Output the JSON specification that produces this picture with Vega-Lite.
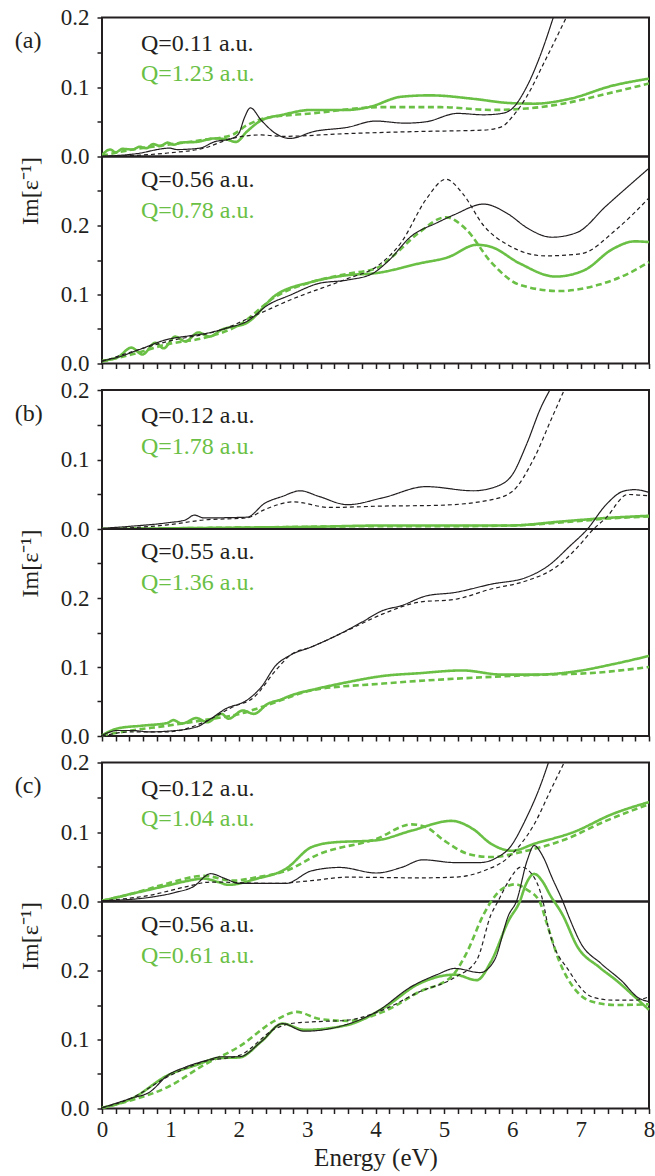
{
"$schema": "https://vega.github.io/schema/vega-lite/v6.json",
"padding": {"left": 13, "top": 5.5, "right": 2, "bottom": 2},
"config": {
  "view": {"stroke": "#231f20", "strokeWidth": 2},
  "font": "Liberation Serif, Times New Roman, serif",
  "axis": {"domain": false, "grid": false, "ticks": true, "tickSize": 5, "tickWidth": 1.5, "tickCount": 60, "tickColor": "#231f20", "labelFont": "Liberation Serif, Times New Roman, serif", "labelFontSize": 23, "labelColor": "#231f20", "labelFlush": false, "labelOverlap": false, "labelBound": false, "titleFont": "Liberation Serif, Times New Roman, serif", "titleFontWeight": "normal", "titleColor": "#231f20"},
  "text": {"font": "Liberation Serif, Times New Roman, serif", "fontSize": 24}
},
"datasets": {
"a1": [
{"E":0,"v":0.002,"s":"gs"},{"E":0.12,"v":0.01,"s":"gs"},{"E":0.2,"v":0.006,"s":"gs"},{"E":0.3,"v":0.011,"s":"gs"},{"E":0.45,"v":0.01,"s":"gs"},{"E":0.55,"v":0.014,"s":"gs"},{"E":0.65,"v":0.012,"s":"gs"},{"E":0.75,"v":0.018,"s":"gs"},{"E":0.85,"v":0.015,"s":"gs"},{"E":0.96,"v":0.02,"s":"gs"},{"E":1.05,"v":0.017,"s":"gs"},{"E":1.15,"v":0.02,"s":"gs"},{"E":1.38,"v":0.021,"s":"gs"},{"E":1.64,"v":0.026,"s":"gs"},{"E":1.8,"v":0.025,"s":"gs"},{"E":1.96,"v":0.021,"s":"gs"},{"E":2.12,"v":0.036,"s":"gs"},{"E":2.33,"v":0.052,"s":"gs"},{"E":2.64,"v":0.06,"s":"gs"},{"E":3.06,"v":0.067,"s":"gs"},{"E":3.59,"v":0.067,"s":"gs"},{"E":3.9,"v":0.071,"s":"gs"},{"E":4.38,"v":0.086,"s":"gs"},{"E":4.8,"v":0.088,"s":"gs"},{"E":5.43,"v":0.083,"s":"gs"},{"E":5.95,"v":0.077,"s":"gs"},{"E":6.32,"v":0.076,"s":"gs"},{"E":6.84,"v":0.083,"s":"gs"},{"E":7.47,"v":0.102,"s":"gs"},{"E":8,"v":0.112,"s":"gs"},
{"E":0,"v":0.001,"s":"gd"},{"E":0.45,"v":0.01,"s":"gd"},{"E":0.96,"v":0.017,"s":"gd"},{"E":1.49,"v":0.024,"s":"gd"},{"E":1.9,"v":0.031,"s":"gd"},{"E":2.12,"v":0.045,"s":"gd"},{"E":2.38,"v":0.055,"s":"gd"},{"E":3.06,"v":0.062,"s":"gd"},{"E":4.11,"v":0.071,"s":"gd"},{"E":4.95,"v":0.071,"s":"gd"},{"E":5.69,"v":0.067,"s":"gd"},{"E":6.21,"v":0.069,"s":"gd"},{"E":6.74,"v":0.076,"s":"gd"},{"E":7.37,"v":0.09,"s":"gd"},{"E":8,"v":0.105,"s":"gd"},
{"E":0,"v":0,"s":"ks"},{"E":0.5,"v":0.004,"s":"ks"},{"E":0.99,"v":0.012,"s":"ks"},{"E":1.1,"v":0.01,"s":"ks"},{"E":1.43,"v":0.012,"s":"ks"},{"E":1.64,"v":0.021,"s":"ks"},{"E":1.9,"v":0.026,"s":"ks"},{"E":2.0,"v":0.033,"s":"ks"},{"E":2.08,"v":0.055,"s":"ks"},{"E":2.17,"v":0.07,"s":"ks"},{"E":2.33,"v":0.052,"s":"ks"},{"E":2.54,"v":0.033,"s":"ks"},{"E":2.75,"v":0.026,"s":"ks"},{"E":3.1,"v":0.036,"s":"ks"},{"E":3.59,"v":0.042,"s":"ks"},{"E":4.0,"v":0.051,"s":"ks"},{"E":4.43,"v":0.048,"s":"ks"},{"E":4.74,"v":0.05,"s":"ks"},{"E":5.2,"v":0.062,"s":"ks"},{"E":5.58,"v":0.06,"s":"ks"},{"E":5.85,"v":0.062,"s":"ks"},{"E":6.0,"v":0.069,"s":"ks"},{"E":6.21,"v":0.1,"s":"ks"},{"E":6.42,"v":0.148,"s":"ks"},{"E":6.6,"v":0.2,"s":"ks"},
{"E":0,"v":0,"s":"kd"},{"E":0.96,"v":0.005,"s":"kd"},{"E":1.49,"v":0.012,"s":"kd"},{"E":1.9,"v":0.026,"s":"kd"},{"E":2.33,"v":0.031,"s":"kd"},{"E":2.64,"v":0.029,"s":"kd"},{"E":3.59,"v":0.033,"s":"kd"},{"E":4.64,"v":0.036,"s":"kd"},{"E":5.58,"v":0.038,"s":"kd"},{"E":5.85,"v":0.043,"s":"kd"},{"E":6.0,"v":0.057,"s":"kd"},{"E":6.21,"v":0.086,"s":"kd"},{"E":6.48,"v":0.138,"s":"kd"},{"E":6.79,"v":0.2,"s":"kd"}
],
"a2": [
{"E":0,"v":0.004,"s":"gs"},{"E":0.23,"v":0.009,"s":"gs"},{"E":0.43,"v":0.023,"s":"gs"},{"E":0.59,"v":0.013,"s":"gs"},{"E":0.78,"v":0.03,"s":"gs"},{"E":0.9,"v":0.022,"s":"gs"},{"E":1.07,"v":0.039,"s":"gs"},{"E":1.22,"v":0.032,"s":"gs"},{"E":1.41,"v":0.045,"s":"gs"},{"E":1.57,"v":0.039,"s":"gs"},{"E":1.75,"v":0.049,"s":"gs"},{"E":2.12,"v":0.059,"s":"gs"},{"E":2.54,"v":0.099,"s":"gs"},{"E":3.06,"v":0.118,"s":"gs"},{"E":3.59,"v":0.128,"s":"gs"},{"E":4.01,"v":0.131,"s":"gs"},{"E":4.64,"v":0.145,"s":"gs"},{"E":5.06,"v":0.154,"s":"gs"},{"E":5.48,"v":0.172,"s":"gs"},{"E":5.69,"v":0.169,"s":"gs"},{"E":6.11,"v":0.145,"s":"gs"},{"E":6.63,"v":0.126,"s":"gs"},{"E":7.05,"v":0.135,"s":"gs"},{"E":7.47,"v":0.166,"s":"gs"},{"E":7.79,"v":0.177,"s":"gs"},{"E":8,"v":0.176,"s":"gs"},
{"E":0,"v":0.003,"s":"gd"},{"E":0.43,"v":0.013,"s":"gd"},{"E":0.96,"v":0.028,"s":"gd"},{"E":1.49,"v":0.037,"s":"gd"},{"E":2.01,"v":0.056,"s":"gd"},{"E":2.54,"v":0.097,"s":"gd"},{"E":3.06,"v":0.118,"s":"gd"},{"E":3.59,"v":0.13,"s":"gd"},{"E":4.01,"v":0.138,"s":"gd"},{"E":4.27,"v":0.157,"s":"gd"},{"E":4.64,"v":0.19,"s":"gd"},{"E":5.03,"v":0.212,"s":"gd"},{"E":5.32,"v":0.195,"s":"gd"},{"E":5.69,"v":0.147,"s":"gd"},{"E":6.11,"v":0.114,"s":"gd"},{"E":6.69,"v":0.105,"s":"gd"},{"E":7.26,"v":0.114,"s":"gd"},{"E":7.69,"v":0.13,"s":"gd"},{"E":8,"v":0.147,"s":"gd"},
{"E":0,"v":0.004,"s":"ks"},{"E":0.23,"v":0.009,"s":"ks"},{"E":0.54,"v":0.02,"s":"ks"},{"E":0.96,"v":0.035,"s":"ks"},{"E":1.27,"v":0.04,"s":"ks"},{"E":1.54,"v":0.044,"s":"ks"},{"E":1.85,"v":0.052,"s":"ks"},{"E":2.12,"v":0.061,"s":"ks"},{"E":2.43,"v":0.085,"s":"ks"},{"E":2.75,"v":0.099,"s":"ks"},{"E":3.17,"v":0.116,"s":"ks"},{"E":3.59,"v":0.121,"s":"ks"},{"E":3.95,"v":0.13,"s":"ks"},{"E":4.17,"v":0.147,"s":"ks"},{"E":4.53,"v":0.185,"s":"ks"},{"E":4.9,"v":0.204,"s":"ks"},{"E":5.16,"v":0.216,"s":"ks"},{"E":5.58,"v":0.231,"s":"ks"},{"E":5.95,"v":0.216,"s":"ks"},{"E":6.21,"v":0.197,"s":"ks"},{"E":6.58,"v":0.183,"s":"ks"},{"E":6.95,"v":0.19,"s":"ks"},{"E":7.37,"v":0.228,"s":"ks"},{"E":8,"v":0.283,"s":"ks"},
{"E":0,"v":0.003,"s":"kd"},{"E":0.96,"v":0.032,"s":"kd"},{"E":1.75,"v":0.049,"s":"kd"},{"E":2.27,"v":0.071,"s":"kd"},{"E":2.75,"v":0.092,"s":"kd"},{"E":3.59,"v":0.123,"s":"kd"},{"E":4.01,"v":0.14,"s":"kd"},{"E":4.38,"v":0.176,"s":"kd"},{"E":4.74,"v":0.238,"s":"kd"},{"E":5.03,"v":0.267,"s":"kd"},{"E":5.27,"v":0.247,"s":"kd"},{"E":5.58,"v":0.2,"s":"kd"},{"E":5.95,"v":0.171,"s":"kd"},{"E":6.48,"v":0.156,"s":"kd"},{"E":7.0,"v":0.159,"s":"kd"},{"E":7.53,"v":0.195,"s":"kd"},{"E":8,"v":0.24,"s":"kd"}
],
"b1": [
{"E":0,"v":0,"s":"gs"},{"E":1,"v":0.001,"s":"gs"},{"E":2.01,"v":0.002,"s":"gs"},{"E":3,"v":0.003,"s":"gs"},{"E":4.11,"v":0.005,"s":"gs"},{"E":5,"v":0.005,"s":"gs"},{"E":5.95,"v":0.005,"s":"gs"},{"E":6.74,"v":0.011,"s":"gs"},{"E":7.4,"v":0.016,"s":"gs"},{"E":8,"v":0.019,"s":"gs"},
{"E":0,"v":0,"s":"gd"},{"E":2,"v":0.002,"s":"gd"},{"E":4,"v":0.004,"s":"gd"},{"E":5,"v":0.004,"s":"gd"},{"E":6,"v":0.005,"s":"gd"},{"E":6.8,"v":0.01,"s":"gd"},{"E":7.4,"v":0.015,"s":"gd"},{"E":8,"v":0.018,"s":"gd"},
{"E":0,"v":0.001,"s":"ks"},{"E":0.43,"v":0.004,"s":"ks"},{"E":0.96,"v":0.009,"s":"ks"},{"E":1.22,"v":0.013,"s":"ks"},{"E":1.35,"v":0.02,"s":"ks"},{"E":1.49,"v":0.016,"s":"ks"},{"E":2.12,"v":0.017,"s":"ks"},{"E":2.38,"v":0.037,"s":"ks"},{"E":2.64,"v":0.047,"s":"ks"},{"E":2.9,"v":0.055,"s":"ks"},{"E":3.17,"v":0.047,"s":"ks"},{"E":3.59,"v":0.035,"s":"ks"},{"E":4.11,"v":0.045,"s":"ks"},{"E":4.74,"v":0.061,"s":"ks"},{"E":5.43,"v":0.055,"s":"ks"},{"E":5.79,"v":0.062,"s":"ks"},{"E":6.0,"v":0.078,"s":"ks"},{"E":6.21,"v":0.122,"s":"ks"},{"E":6.42,"v":0.175,"s":"ks"},{"E":6.55,"v":0.2,"s":"ks"},
{"E":0,"v":0,"s":"kd"},{"E":0.96,"v":0.006,"s":"kd"},{"E":1.49,"v":0.013,"s":"kd"},{"E":2.12,"v":0.016,"s":"kd"},{"E":2.38,"v":0.028,"s":"kd"},{"E":2.8,"v":0.039,"s":"kd"},{"E":3.33,"v":0.031,"s":"kd"},{"E":4.11,"v":0.033,"s":"kd"},{"E":4.9,"v":0.034,"s":"kd"},{"E":5.69,"v":0.042,"s":"kd"},{"E":6.0,"v":0.054,"s":"kd"},{"E":6.32,"v":0.102,"s":"kd"},{"E":6.58,"v":0.16,"s":"kd"},{"E":6.76,"v":0.2,"s":"kd"}
],
"b2": [
{"E":0,"v":0.001,"s":"gs"},{"E":0.23,"v":0.011,"s":"gs"},{"E":0.59,"v":0.015,"s":"gs"},{"E":0.96,"v":0.019,"s":"gs"},{"E":1.04,"v":0.023,"s":"gs"},{"E":1.17,"v":0.018,"s":"gs"},{"E":1.38,"v":0.026,"s":"gs"},{"E":1.54,"v":0.02,"s":"gs"},{"E":1.75,"v":0.032,"s":"gs"},{"E":1.85,"v":0.025,"s":"gs"},{"E":2.06,"v":0.037,"s":"gs"},{"E":2.22,"v":0.032,"s":"gs"},{"E":2.43,"v":0.047,"s":"gs"},{"E":2.59,"v":0.052,"s":"gs"},{"E":2.8,"v":0.06,"s":"gs"},{"E":3.12,"v":0.068,"s":"gs"},{"E":3.59,"v":0.078,"s":"gs"},{"E":4.11,"v":0.087,"s":"gs"},{"E":4.64,"v":0.091,"s":"gs"},{"E":5.27,"v":0.095,"s":"gs"},{"E":5.85,"v":0.089,"s":"gs"},{"E":6.37,"v":0.089,"s":"gs"},{"E":6.95,"v":0.094,"s":"gs"},{"E":7.47,"v":0.104,"s":"gs"},{"E":8,"v":0.116,"s":"gs"},
{"E":0,"v":0.001,"s":"gd"},{"E":0.43,"v":0.008,"s":"gd"},{"E":0.96,"v":0.015,"s":"gd"},{"E":1.49,"v":0.023,"s":"gd"},{"E":2.01,"v":0.032,"s":"gd"},{"E":2.54,"v":0.049,"s":"gd"},{"E":3.06,"v":0.066,"s":"gd"},{"E":4.11,"v":0.076,"s":"gd"},{"E":5.16,"v":0.083,"s":"gd"},{"E":6.21,"v":0.088,"s":"gd"},{"E":7.26,"v":0.092,"s":"gd"},{"E":8,"v":0.1,"s":"gd"},
{"E":0,"v":0.001,"s":"ks"},{"E":0.23,"v":0.008,"s":"ks"},{"E":0.43,"v":0.008,"s":"ks"},{"E":0.7,"v":0.006,"s":"ks"},{"E":0.96,"v":0.007,"s":"ks"},{"E":1.38,"v":0.013,"s":"ks"},{"E":1.59,"v":0.025,"s":"ks"},{"E":1.8,"v":0.039,"s":"ks"},{"E":2.12,"v":0.052,"s":"ks"},{"E":2.33,"v":0.071,"s":"ks"},{"E":2.54,"v":0.102,"s":"ks"},{"E":2.75,"v":0.117,"s":"ks"},{"E":3.06,"v":0.129,"s":"ks"},{"E":3.48,"v":0.148,"s":"ks"},{"E":3.8,"v":0.165,"s":"ks"},{"E":4.11,"v":0.182,"s":"ks"},{"E":4.38,"v":0.189,"s":"ks"},{"E":4.74,"v":0.203,"s":"ks"},{"E":5.16,"v":0.208,"s":"ks"},{"E":5.69,"v":0.22,"s":"ks"},{"E":6.21,"v":0.23,"s":"ks"},{"E":6.53,"v":0.247,"s":"ks"},{"E":6.84,"v":0.275,"s":"ks"},{"E":7.1,"v":0.3,"s":"ks"},{"E":7.37,"v":0.335,"s":"ks"},{"E":7.63,"v":0.355,"s":"ks"},{"E":7.79,"v":0.357,"s":"ks"},{"E":8,"v":0.353,"s":"ks"},
{"E":0,"v":0,"s":"kd"},{"E":0.43,"v":0.006,"s":"kd"},{"E":0.96,"v":0.006,"s":"kd"},{"E":1.49,"v":0.02,"s":"kd"},{"E":1.91,"v":0.042,"s":"kd"},{"E":2.22,"v":0.056,"s":"kd"},{"E":2.54,"v":0.095,"s":"kd"},{"E":2.75,"v":0.117,"s":"kd"},{"E":3.06,"v":0.129,"s":"kd"},{"E":3.59,"v":0.153,"s":"kd"},{"E":4.11,"v":0.177,"s":"kd"},{"E":4.64,"v":0.194,"s":"kd"},{"E":5.16,"v":0.198,"s":"kd"},{"E":5.69,"v":0.213,"s":"kd"},{"E":6.21,"v":0.225,"s":"kd"},{"E":6.63,"v":0.244,"s":"kd"},{"E":6.95,"v":0.273,"s":"kd"},{"E":7.19,"v":0.3,"s":"kd"},{"E":7.37,"v":0.316,"s":"kd"},{"E":7.69,"v":0.35,"s":"kd"},{"E":8,"v":0.348,"s":"kd"}
],
"c1": [
{"E":0,"v":0.001,"s":"gs"},{"E":0.43,"v":0.011,"s":"gs"},{"E":0.96,"v":0.023,"s":"gs"},{"E":1.22,"v":0.029,"s":"gs"},{"E":1.49,"v":0.033,"s":"gs"},{"E":1.7,"v":0.028,"s":"gs"},{"E":1.85,"v":0.024,"s":"gs"},{"E":2.27,"v":0.033,"s":"gs"},{"E":2.69,"v":0.047,"s":"gs"},{"E":3.06,"v":0.078,"s":"gs"},{"E":3.38,"v":0.085,"s":"gs"},{"E":4.01,"v":0.088,"s":"gs"},{"E":4.53,"v":0.102,"s":"gs"},{"E":5.11,"v":0.116,"s":"gs"},{"E":5.43,"v":0.104,"s":"gs"},{"E":5.69,"v":0.083,"s":"gs"},{"E":6.0,"v":0.073,"s":"gs"},{"E":6.32,"v":0.083,"s":"gs"},{"E":6.9,"v":0.1,"s":"gs"},{"E":7.47,"v":0.126,"s":"gs"},{"E":8,"v":0.143,"s":"gs"},
{"E":0,"v":0.001,"s":"gd"},{"E":0.43,"v":0.011,"s":"gd"},{"E":0.96,"v":0.026,"s":"gd"},{"E":1.49,"v":0.037,"s":"gd"},{"E":1.91,"v":0.03,"s":"gd"},{"E":2.27,"v":0.035,"s":"gd"},{"E":2.69,"v":0.044,"s":"gd"},{"E":3.17,"v":0.068,"s":"gd"},{"E":4.01,"v":0.09,"s":"gd"},{"E":4.53,"v":0.111,"s":"gd"},{"E":4.74,"v":0.107,"s":"gd"},{"E":5.0,"v":0.088,"s":"gd"},{"E":5.37,"v":0.068,"s":"gd"},{"E":5.69,"v":0.064,"s":"gd"},{"E":6.21,"v":0.073,"s":"gd"},{"E":6.74,"v":0.088,"s":"gd"},{"E":7.37,"v":0.116,"s":"gd"},{"E":8,"v":0.14,"s":"gd"},
{"E":0,"v":0.001,"s":"ks"},{"E":0.7,"v":0.006,"s":"ks"},{"E":1.07,"v":0.013,"s":"ks"},{"E":1.33,"v":0.021,"s":"ks"},{"E":1.59,"v":0.04,"s":"ks"},{"E":1.8,"v":0.033,"s":"ks"},{"E":2.01,"v":0.026,"s":"ks"},{"E":2.69,"v":0.026,"s":"ks"},{"E":3.06,"v":0.044,"s":"ks"},{"E":3.48,"v":0.049,"s":"ks"},{"E":4.01,"v":0.041,"s":"ks"},{"E":4.38,"v":0.049,"s":"ks"},{"E":4.69,"v":0.06,"s":"ks"},{"E":5.16,"v":0.056,"s":"ks"},{"E":5.53,"v":0.056,"s":"ks"},{"E":5.79,"v":0.064,"s":"ks"},{"E":5.95,"v":0.076,"s":"ks"},{"E":6.21,"v":0.121,"s":"ks"},{"E":6.42,"v":0.169,"s":"ks"},{"E":6.53,"v":0.2,"s":"ks"},
{"E":0,"v":0.001,"s":"kd"},{"E":0.7,"v":0.009,"s":"kd"},{"E":1.22,"v":0.021,"s":"kd"},{"E":1.59,"v":0.028,"s":"kd"},{"E":2.54,"v":0.026,"s":"kd"},{"E":3.06,"v":0.03,"s":"kd"},{"E":3.59,"v":0.035,"s":"kd"},{"E":4.64,"v":0.034,"s":"kd"},{"E":5.16,"v":0.035,"s":"kd"},{"E":5.58,"v":0.044,"s":"kd"},{"E":5.95,"v":0.064,"s":"kd"},{"E":6.32,"v":0.111,"s":"kd"},{"E":6.58,"v":0.164,"s":"kd"},{"E":6.76,"v":0.2,"s":"kd"}
],
"c2": [
{"E":0,"v":0.001,"s":"gs"},{"E":0.43,"v":0.014,"s":"gs"},{"E":0.96,"v":0.048,"s":"gs"},{"E":1.38,"v":0.063,"s":"gs"},{"E":1.7,"v":0.073,"s":"gs"},{"E":2.01,"v":0.074,"s":"gs"},{"E":2.33,"v":0.097,"s":"gs"},{"E":2.64,"v":0.123,"s":"gs"},{"E":2.96,"v":0.114,"s":"gs"},{"E":3.59,"v":0.121,"s":"gs"},{"E":4.11,"v":0.145,"s":"gs"},{"E":4.64,"v":0.181,"s":"gs"},{"E":5.16,"v":0.194,"s":"gs"},{"E":5.48,"v":0.186,"s":"gs"},{"E":5.69,"v":0.213,"s":"gs"},{"E":5.95,"v":0.273,"s":"gs"},{"E":6.11,"v":0.3,"s":"gs"},{"E":6.2,"v":0.325,"s":"gs"},{"E":6.32,"v":0.34,"s":"gs"},{"E":6.45,"v":0.328,"s":"gs"},{"E":6.55,"v":0.31,"s":"gs"},{"E":6.74,"v":0.28,"s":"gs"},{"E":6.95,"v":0.235,"s":"gs"},{"E":7.27,"v":0.205,"s":"gs"},{"E":7.53,"v":0.185,"s":"gs"},{"E":7.79,"v":0.162,"s":"gs"},{"E":8,"v":0.143,"s":"gs"},
{"E":0,"v":0.001,"s":"gd"},{"E":0.43,"v":0.012,"s":"gd"},{"E":0.96,"v":0.031,"s":"gd"},{"E":1.49,"v":0.063,"s":"gd"},{"E":2.01,"v":0.09,"s":"gd"},{"E":2.54,"v":0.128,"s":"gd"},{"E":2.85,"v":0.14,"s":"gd"},{"E":3.17,"v":0.13,"s":"gd"},{"E":3.59,"v":0.127,"s":"gd"},{"E":4.11,"v":0.14,"s":"gd"},{"E":4.64,"v":0.169,"s":"gd"},{"E":5.11,"v":0.191,"s":"gd"},{"E":5.32,"v":0.223,"s":"gd"},{"E":5.58,"v":0.281,"s":"gd"},{"E":5.69,"v":0.3,"s":"gd"},{"E":5.85,"v":0.318,"s":"gd"},{"E":6.05,"v":0.325,"s":"gd"},{"E":6.2,"v":0.318,"s":"gd"},{"E":6.4,"v":0.3,"s":"gd"},{"E":6.5,"v":0.27,"s":"gd"},{"E":6.69,"v":0.213,"s":"gd"},{"E":6.95,"v":0.169,"s":"gd"},{"E":7.16,"v":0.155,"s":"gd"},{"E":7.53,"v":0.15,"s":"gd"},{"E":8,"v":0.151,"s":"gd"},
{"E":0,"v":0.001,"s":"ks"},{"E":0.43,"v":0.015,"s":"ks"},{"E":0.7,"v":0.024,"s":"ks"},{"E":0.96,"v":0.048,"s":"ks"},{"E":1.22,"v":0.06,"s":"ks"},{"E":1.54,"v":0.07,"s":"ks"},{"E":1.75,"v":0.075,"s":"ks"},{"E":2.01,"v":0.075,"s":"ks"},{"E":2.33,"v":0.097,"s":"ks"},{"E":2.64,"v":0.123,"s":"ks"},{"E":2.96,"v":0.112,"s":"ks"},{"E":3.48,"v":0.119,"s":"ks"},{"E":4.01,"v":0.14,"s":"ks"},{"E":4.53,"v":0.177,"s":"ks"},{"E":4.9,"v":0.194,"s":"ks"},{"E":5.16,"v":0.203,"s":"ks"},{"E":5.53,"v":0.197,"s":"ks"},{"E":5.74,"v":0.215,"s":"ks"},{"E":5.95,"v":0.281,"s":"ks"},{"E":6.06,"v":0.3,"s":"ks"},{"E":6.22,"v":0.36,"s":"ks"},{"E":6.32,"v":0.381,"s":"ks"},{"E":6.45,"v":0.365,"s":"ks"},{"E":6.58,"v":0.335,"s":"ks"},{"E":6.74,"v":0.3,"s":"ks"},{"E":6.84,"v":0.275,"s":"ks"},{"E":7.0,"v":0.24,"s":"ks"},{"E":7.3,"v":0.21,"s":"ks"},{"E":7.6,"v":0.185,"s":"ks"},{"E":7.85,"v":0.16,"s":"ks"},{"E":8,"v":0.155,"s":"ks"},
{"E":0,"v":0.001,"s":"kd"},{"E":0.43,"v":0.015,"s":"kd"},{"E":0.96,"v":0.046,"s":"kd"},{"E":1.49,"v":0.068,"s":"kd"},{"E":2.01,"v":0.077,"s":"kd"},{"E":2.54,"v":0.116,"s":"kd"},{"E":2.75,"v":0.123,"s":"kd"},{"E":3.17,"v":0.126,"s":"kd"},{"E":3.59,"v":0.128,"s":"kd"},{"E":4.11,"v":0.143,"s":"kd"},{"E":4.64,"v":0.169,"s":"kd"},{"E":5.16,"v":0.19,"s":"kd"},{"E":5.48,"v":0.215,"s":"kd"},{"E":5.69,"v":0.281,"s":"kd"},{"E":5.79,"v":0.3,"s":"kd"},{"E":5.95,"v":0.33,"s":"kd"},{"E":6.13,"v":0.35,"s":"kd"},{"E":6.32,"v":0.335,"s":"kd"},{"E":6.45,"v":0.3,"s":"kd"},{"E":6.53,"v":0.261,"s":"kd"},{"E":6.84,"v":0.198,"s":"kd"},{"E":7.16,"v":0.162,"s":"kd"},{"E":7.47,"v":0.157,"s":"kd"},{"E":7.79,"v":0.157,"s":"kd"},{"E":8,"v":0.162,"s":"kd"}
]
},
"spacing": 1.5,
"resolve": {"scale": {"y": "independent"}},
"vconcat": [
{"bounds": "flush", "spacing": 0, "resolve": {"scale": {"y": "independent"}},
 "vconcat": [
 {"width": 547, "height": 139, "data": {"name": "a1"},
  "layer": [
   {"transform": [{"filter": {"field": "s", "oneOf": ["gs", "gd"]}}], "mark": {"type": "line", "interpolate": "monotone", "clip": true, "color": "#6abf45", "strokeWidth": 2.6},
    "encoding": {"x": {"field": "E", "type": "quantitative", "scale": {"domain": [0, 8], "nice": false, "zero": false}, "axis": null},
     "y": {"field": "v", "type": "quantitative", "scale": {"domain": [0, 0.2], "nice": false, "zero": false}, "axis": {"values": [0, 0.05, 0.1, 0.15, 0.2], "tickCount": 60, "labelExpr": "round(datum.value*20)%2==0 ? format(datum.value,'.1f') : ''", "labelPadding": 8, "labelOverlap": false, "title": "Im[ε⁻¹]", "titleX": -65, "titleY": 173, "titleAngle": -90, "titleBaseline": "alphabetic", "titleAlign": "center", "titleFontSize": 24}},
     "strokeDash": {"field": "s", "type": "nominal", "scale": {"domain": ["gs", "gd", "ks", "kd"], "range": [[1, 0], [6, 3.5], [1, 0], [4, 3]]}, "legend": null}}},
   {"transform": [{"filter": {"field": "s", "oneOf": ["ks", "kd"]}}], "mark": {"type": "line", "interpolate": "monotone", "clip": true, "color": "#231f20", "strokeWidth": 1.2},
    "encoding": {"x": {"field": "E", "type": "quantitative"}, "y": {"field": "v", "type": "quantitative"}, "strokeDash": {"field": "s", "type": "nominal", "legend": null}}},
   {"data": {"values": [{"t": "(a)"}]}, "mark": {"type": "text", "align": "left", "baseline": "alphabetic", "color": "#231f20"}, "encoding": {"x": {"datum": -1.276, "type": "quantitative"}, "y": {"datum": 0.156, "type": "quantitative"}, "text": {"field": "t"}}},
   {"data": {"values": [{"t": "Q=0.11 a.u."}]}, "mark": {"type": "text", "align": "left", "baseline": "alphabetic", "color": "#231f20"}, "encoding": {"x": {"datum": 0.57, "type": "quantitative"}, "y": {"datum": 0.1525, "type": "quantitative"}, "text": {"field": "t"}}},
   {"data": {"values": [{"t": "Q=1.23 a.u."}]}, "mark": {"type": "text", "align": "left", "baseline": "alphabetic", "color": "#6abf45"}, "encoding": {"x": {"datum": 0.57, "type": "quantitative"}, "y": {"datum": 0.1086, "type": "quantitative"}, "text": {"field": "t"}}}
  ]},
 {"width": 547, "height": 207, "data": {"name": "a2"},
  "layer": [
   {"transform": [{"filter": {"field": "s", "oneOf": ["gs", "gd"]}}], "mark": {"type": "line", "interpolate": "monotone", "color": "#6abf45", "strokeWidth": 2.6},
    "encoding": {"x": {"field": "E", "type": "quantitative", "scale": {"domain": [0, 8], "nice": false, "zero": false}, "axis": {"values": [0,0.2,0.4,0.6,0.8,1,1.2,1.4,1.6,1.8,2,2.2,2.4,2.6,2.8,3,3.2,3.4,3.6,3.8,4,4.2,4.4,4.6,4.8,5,5.2,5.4,5.6,5.8,6,6.2,6.4,6.6,6.8,7,7.2,7.4,7.6,7.8,8], "tickCount": 60, "labels": false, "labelOverlap": false, "title": null}},
     "y": {"field": "v", "type": "quantitative", "scale": {"domain": [0, 0.3], "nice": false, "zero": false}, "axis": {"values": [0, 0.05, 0.1, 0.15, 0.2, 0.25], "tickCount": 60, "labelExpr": "round(datum.value*20)%2==0 ? format(datum.value,'.1f') : ''", "labelPadding": 8, "labelOverlap": false, "title": null}},
     "strokeDash": {"field": "s", "type": "nominal", "scale": {"domain": ["gs", "gd", "ks", "kd"], "range": [[1, 0], [6, 3.5], [1, 0], [4, 3]]}, "legend": null}}},
   {"transform": [{"filter": {"field": "s", "oneOf": ["ks", "kd"]}}], "mark": {"type": "line", "interpolate": "monotone", "color": "#231f20", "strokeWidth": 1.2},
    "encoding": {"x": {"field": "E", "type": "quantitative"}, "y": {"field": "v", "type": "quantitative"}, "strokeDash": {"field": "s", "type": "nominal", "legend": null}}},
   {"data": {"values": [{"t": "Q=0.56 a.u."}]}, "mark": {"type": "text", "align": "left", "baseline": "alphabetic", "color": "#231f20"}, "encoding": {"x": {"datum": 0.57, "type": "quantitative"}, "y": {"datum": 0.2558, "type": "quantitative"}, "text": {"field": "t"}}},
   {"data": {"values": [{"t": "Q=0.78 a.u."}]}, "mark": {"type": "text", "align": "left", "baseline": "alphabetic", "color": "#6abf45"}, "encoding": {"x": {"datum": 0.57, "type": "quantitative"}, "y": {"datum": 0.211, "type": "quantitative"}, "text": {"field": "t"}}}
  ]}
 ]},
{"bounds": "flush", "spacing": 0, "resolve": {"scale": {"y": "independent"}},
 "vconcat": [
 {"width": 547, "height": 139, "data": {"name": "b1"},
  "layer": [
   {"transform": [{"filter": {"field": "s", "oneOf": ["gs", "gd"]}}], "mark": {"type": "line", "interpolate": "monotone", "clip": true, "color": "#6abf45", "strokeWidth": 2.6},
    "encoding": {"x": {"field": "E", "type": "quantitative", "scale": {"domain": [0, 8], "nice": false, "zero": false}, "axis": null},
     "y": {"field": "v", "type": "quantitative", "scale": {"domain": [0, 0.2], "nice": false, "zero": false}, "axis": {"values": [0, 0.05, 0.1, 0.15, 0.2], "tickCount": 60, "labelExpr": "round(datum.value*20)%2==0 ? format(datum.value,'.1f') : ''", "labelPadding": 8, "labelOverlap": false, "title": "Im[ε⁻¹]", "titleX": -65, "titleY": 173, "titleAngle": -90, "titleBaseline": "alphabetic", "titleAlign": "center", "titleFontSize": 24}},
     "strokeDash": {"field": "s", "type": "nominal", "scale": {"domain": ["gs", "gd", "ks", "kd"], "range": [[1, 0], [6, 3.5], [1, 0], [4, 3]]}, "legend": null}}},
   {"transform": [{"filter": {"field": "s", "oneOf": ["ks", "kd"]}}], "mark": {"type": "line", "interpolate": "monotone", "clip": true, "color": "#231f20", "strokeWidth": 1.2},
    "encoding": {"x": {"field": "E", "type": "quantitative"}, "y": {"field": "v", "type": "quantitative"}, "strokeDash": {"field": "s", "type": "nominal", "legend": null}}},
   {"data": {"values": [{"t": "(b)"}]}, "mark": {"type": "text", "align": "left", "baseline": "alphabetic", "color": "#231f20"}, "encoding": {"x": {"datum": -1.276, "type": "quantitative"}, "y": {"datum": 0.156, "type": "quantitative"}, "text": {"field": "t"}}},
   {"data": {"values": [{"t": "Q=0.12 a.u."}]}, "mark": {"type": "text", "align": "left", "baseline": "alphabetic", "color": "#231f20"}, "encoding": {"x": {"datum": 0.57, "type": "quantitative"}, "y": {"datum": 0.1525, "type": "quantitative"}, "text": {"field": "t"}}},
   {"data": {"values": [{"t": "Q=1.78 a.u."}]}, "mark": {"type": "text", "align": "left", "baseline": "alphabetic", "color": "#6abf45"}, "encoding": {"x": {"datum": 0.57, "type": "quantitative"}, "y": {"datum": 0.1086, "type": "quantitative"}, "text": {"field": "t"}}}
  ]},
 {"width": 547, "height": 207, "data": {"name": "b2"},
  "layer": [
   {"transform": [{"filter": {"field": "s", "oneOf": ["gs", "gd"]}}], "mark": {"type": "line", "interpolate": "monotone", "color": "#6abf45", "strokeWidth": 2.6},
    "encoding": {"x": {"field": "E", "type": "quantitative", "scale": {"domain": [0, 8], "nice": false, "zero": false}, "axis": {"values": [0,0.2,0.4,0.6,0.8,1,1.2,1.4,1.6,1.8,2,2.2,2.4,2.6,2.8,3,3.2,3.4,3.6,3.8,4,4.2,4.4,4.6,4.8,5,5.2,5.4,5.6,5.8,6,6.2,6.4,6.6,6.8,7,7.2,7.4,7.6,7.8,8], "tickCount": 60, "labels": false, "labelOverlap": false, "title": null}},
     "y": {"field": "v", "type": "quantitative", "scale": {"domain": [0, 0.3], "nice": false, "zero": false}, "axis": {"values": [0, 0.05, 0.1, 0.15, 0.2, 0.25], "tickCount": 60, "labelExpr": "round(datum.value*20)%2==0 ? format(datum.value,'.1f') : ''", "labelPadding": 8, "labelOverlap": false, "title": null}},
     "strokeDash": {"field": "s", "type": "nominal", "scale": {"domain": ["gs", "gd", "ks", "kd"], "range": [[1, 0], [6, 3.5], [1, 0], [4, 3]]}, "legend": null}}},
   {"transform": [{"filter": {"field": "s", "oneOf": ["ks", "kd"]}}], "mark": {"type": "line", "interpolate": "monotone", "color": "#231f20", "strokeWidth": 1.2},
    "encoding": {"x": {"field": "E", "type": "quantitative"}, "y": {"field": "v", "type": "quantitative"}, "strokeDash": {"field": "s", "type": "nominal", "legend": null}}},
   {"data": {"values": [{"t": "Q=0.55 a.u."}]}, "mark": {"type": "text", "align": "left", "baseline": "alphabetic", "color": "#231f20"}, "encoding": {"x": {"datum": 0.57, "type": "quantitative"}, "y": {"datum": 0.2558, "type": "quantitative"}, "text": {"field": "t"}}},
   {"data": {"values": [{"t": "Q=1.36 a.u."}]}, "mark": {"type": "text", "align": "left", "baseline": "alphabetic", "color": "#6abf45"}, "encoding": {"x": {"datum": 0.57, "type": "quantitative"}, "y": {"datum": 0.211, "type": "quantitative"}, "text": {"field": "t"}}}
  ]}
 ]},
{"bounds": "flush", "spacing": 0, "resolve": {"scale": {"y": "independent"}},
 "vconcat": [
 {"width": 547, "height": 139, "data": {"name": "c1"},
  "layer": [
   {"transform": [{"filter": {"field": "s", "oneOf": ["gs", "gd"]}}], "mark": {"type": "line", "interpolate": "monotone", "clip": true, "color": "#6abf45", "strokeWidth": 2.6},
    "encoding": {"x": {"field": "E", "type": "quantitative", "scale": {"domain": [0, 8], "nice": false, "zero": false}, "axis": null},
     "y": {"field": "v", "type": "quantitative", "scale": {"domain": [0, 0.2], "nice": false, "zero": false}, "axis": {"values": [0, 0.05, 0.1, 0.15, 0.2], "tickCount": 60, "labelExpr": "round(datum.value*20)%2==0 ? format(datum.value,'.1f') : ''", "labelPadding": 8, "labelOverlap": false, "title": "Im[ε⁻¹]", "titleX": -65, "titleY": 173, "titleAngle": -90, "titleBaseline": "alphabetic", "titleAlign": "center", "titleFontSize": 24}},
     "strokeDash": {"field": "s", "type": "nominal", "scale": {"domain": ["gs", "gd", "ks", "kd"], "range": [[1, 0], [6, 3.5], [1, 0], [4, 3]]}, "legend": null}}},
   {"transform": [{"filter": {"field": "s", "oneOf": ["ks", "kd"]}}], "mark": {"type": "line", "interpolate": "monotone", "clip": true, "color": "#231f20", "strokeWidth": 1.2},
    "encoding": {"x": {"field": "E", "type": "quantitative"}, "y": {"field": "v", "type": "quantitative"}, "strokeDash": {"field": "s", "type": "nominal", "legend": null}}},
   {"data": {"values": [{"t": "(c)"}]}, "mark": {"type": "text", "align": "left", "baseline": "alphabetic", "color": "#231f20"}, "encoding": {"x": {"datum": -1.276, "type": "quantitative"}, "y": {"datum": 0.156, "type": "quantitative"}, "text": {"field": "t"}}},
   {"data": {"values": [{"t": "Q=0.12 a.u."}]}, "mark": {"type": "text", "align": "left", "baseline": "alphabetic", "color": "#231f20"}, "encoding": {"x": {"datum": 0.57, "type": "quantitative"}, "y": {"datum": 0.1525, "type": "quantitative"}, "text": {"field": "t"}}},
   {"data": {"values": [{"t": "Q=1.04 a.u."}]}, "mark": {"type": "text", "align": "left", "baseline": "alphabetic", "color": "#6abf45"}, "encoding": {"x": {"datum": 0.57, "type": "quantitative"}, "y": {"datum": 0.1086, "type": "quantitative"}, "text": {"field": "t"}}}
  ]},
 {"width": 547, "height": 207, "data": {"name": "c2"},
  "layer": [
   {"transform": [{"filter": {"field": "s", "oneOf": ["gs", "gd"]}}], "mark": {"type": "line", "interpolate": "monotone", "color": "#6abf45", "strokeWidth": 2.6},
    "encoding": {"x": {"field": "E", "type": "quantitative", "scale": {"domain": [0, 8], "nice": false, "zero": false}, "axis": {"values": [0,0.2,0.4,0.6,0.8,1,1.2,1.4,1.6,1.8,2,2.2,2.4,2.6,2.8,3,3.2,3.4,3.6,3.8,4,4.2,4.4,4.6,4.8,5,5.2,5.4,5.6,5.8,6,6.2,6.4,6.6,6.8,7,7.2,7.4,7.6,7.8,8], "tickCount": 60, "labelExpr": "abs(datum.value-round(datum.value))<0.01 ? format(datum.value,'d') : ''", "labelOverlap": false, "labelPadding": 5, "title": "Energy (eV)", "titleFontSize": 25, "titlePadding": 4}},
     "y": {"field": "v", "type": "quantitative", "scale": {"domain": [0, 0.3], "nice": false, "zero": false}, "axis": {"values": [0, 0.05, 0.1, 0.15, 0.2, 0.25], "tickCount": 60, "labelExpr": "round(datum.value*20)%2==0 ? format(datum.value,'.1f') : ''", "labelPadding": 8, "labelOverlap": false, "title": null}},
     "strokeDash": {"field": "s", "type": "nominal", "scale": {"domain": ["gs", "gd", "ks", "kd"], "range": [[1, 0], [6, 3.5], [1, 0], [4, 3]]}, "legend": null}}},
   {"transform": [{"filter": {"field": "s", "oneOf": ["ks", "kd"]}}], "mark": {"type": "line", "interpolate": "monotone", "color": "#231f20", "strokeWidth": 1.2},
    "encoding": {"x": {"field": "E", "type": "quantitative"}, "y": {"field": "v", "type": "quantitative"}, "strokeDash": {"field": "s", "type": "nominal", "legend": null}}},
   {"data": {"values": [{"t": "Q=0.56 a.u."}]}, "mark": {"type": "text", "align": "left", "baseline": "alphabetic", "color": "#231f20"}, "encoding": {"x": {"datum": 0.57, "type": "quantitative"}, "y": {"datum": 0.2558, "type": "quantitative"}, "text": {"field": "t"}}},
   {"data": {"values": [{"t": "Q=0.61 a.u."}]}, "mark": {"type": "text", "align": "left", "baseline": "alphabetic", "color": "#6abf45"}, "encoding": {"x": {"datum": 0.57, "type": "quantitative"}, "y": {"datum": 0.211, "type": "quantitative"}, "text": {"field": "t"}}}
  ]}
 ]}
]
}
